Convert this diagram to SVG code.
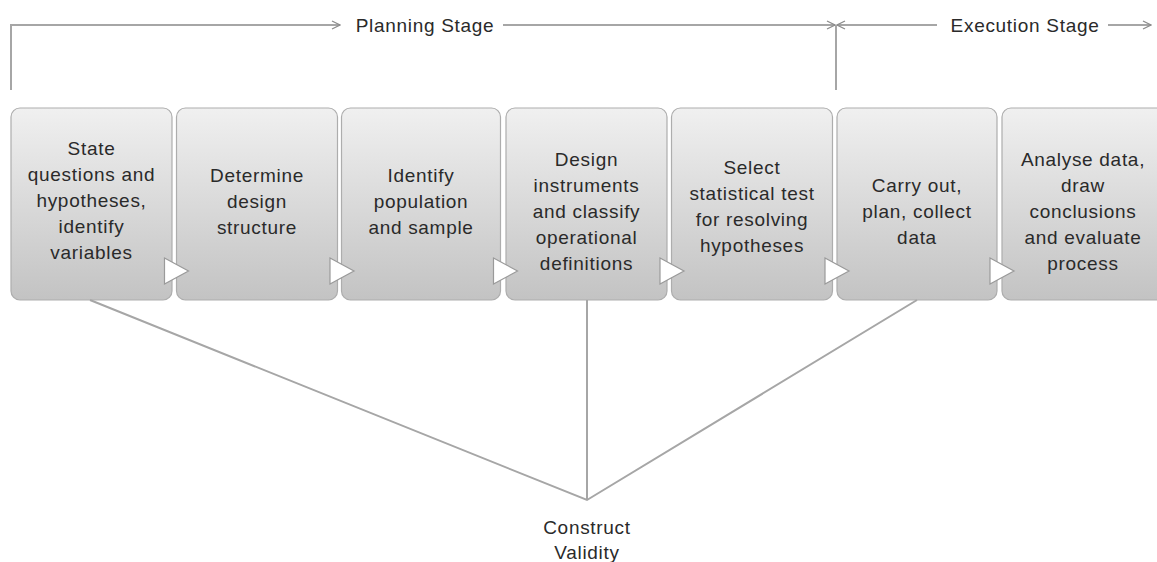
<svg xmlns="http://www.w3.org/2000/svg" width="1157" height="562" viewBox="0 0 1157 562">
<defs>
<linearGradient id="g" x1="0" y1="0" x2="0" y2="1">
<stop offset="0" stop-color="#f0f0f0"/>
<stop offset="1" stop-color="#c3c3c3"/>
</linearGradient>
<marker id="a" viewBox="0 0 10 10" refX="9" refY="5" markerWidth="10" markerHeight="10" markerUnits="userSpaceOnUse" orient="auto">
<path d="M1,1 L9,5 L1,9" fill="none" stroke="#8c8c8c" stroke-width="1.3"/>
</marker>
<style>
.box{fill:url(#g);stroke:#adadad;stroke-width:1.2}
.t{font-family:"Liberation Sans",Arial,sans-serif;font-size:19px;letter-spacing:0.7px;fill:#2a2a2a;text-anchor:middle}
.ln{stroke:#a6a6a6;stroke-width:2;fill:none}
.tri{fill:#ffffff;stroke:#9a9a9a;stroke-width:1.2}
</style>
</defs>
<rect width="1157" height="562" fill="#ffffff"/>

<g id="node1">
<rect class="box" x="11" y="108" width="161" height="192" rx="9"/>
<text class="t" x="91.5" y="154.5">State</text>
<text class="t" x="91.5" y="180.5">questions and</text>
<text class="t" x="91.5" y="206.5">hypotheses,</text>
<text class="t" x="91.5" y="232.5">identify</text>
<text class="t" x="91.5" y="258.5">variables</text>
</g>
<g id="node2">
<rect class="box" x="176.5" y="108" width="161" height="192" rx="9"/>
<text class="t" x="257" y="181.5">Determine</text>
<text class="t" x="257" y="207.5">design</text>
<text class="t" x="257" y="233.5">structure</text>
</g>
<g id="node3">
<rect class="box" x="341.5" y="108" width="159" height="192" rx="9"/>
<text class="t" x="421" y="181.5">Identify</text>
<text class="t" x="421" y="207.5">population</text>
<text class="t" x="421" y="233.5">and sample</text>
</g>
<g id="node4">
<rect class="box" x="506" y="108" width="161" height="192" rx="9"/>
<text class="t" x="586.5" y="165.5">Design</text>
<text class="t" x="586.5" y="191.5">instruments</text>
<text class="t" x="586.5" y="217.5">and classify</text>
<text class="t" x="586.5" y="243.5">operational</text>
<text class="t" x="586.5" y="269.5">definitions</text>
</g>
<g id="node5">
<rect class="box" x="671.5" y="108" width="161" height="192" rx="9"/>
<text class="t" x="752" y="173.5">Select</text>
<text class="t" x="752" y="199.5">statistical test</text>
<text class="t" x="752" y="225.5">for resolving</text>
<text class="t" x="752" y="251.5">hypotheses</text>
</g>
<g id="node6">
<rect class="box" x="837" y="108" width="160" height="192" rx="9"/>
<text class="t" x="917" y="191.5">Carry out,</text>
<text class="t" x="917" y="217.5">plan, collect</text>
<text class="t" x="917" y="243.5">data</text>
</g>
<g id="node7">
<rect class="box" x="1002" y="108" width="165" height="192" rx="9"/>
<text class="t" x="1083" y="165.5">Analyse data,</text>
<text class="t" x="1083" y="191.5">draw</text>
<text class="t" x="1083" y="217.5">conclusions</text>
<text class="t" x="1083" y="243.5">and evaluate</text>
<text class="t" x="1083" y="269.5">process</text>
</g>

<g id="connectors">
<polygon class="tri" points="164.5,258 188.5,271 164.5,284"/>
<polygon class="tri" points="330,258 354,271 330,284"/>
<polygon class="tri" points="493.5,258 517.5,271 493.5,284"/>
<polygon class="tri" points="660,258 684,271 660,284"/>
<polygon class="tri" points="825,258 849,271 825,284"/>
<polygon class="tri" points="990,258 1014,271 990,284"/>

<path class="ln" d="M11,90 L11,25 L340,25" marker-end="url(#a)"/>
<path class="ln" d="M503,25 L835,25" marker-end="url(#a)"/>
<path class="ln" d="M937,25 L837,25" marker-end="url(#a)"/>
<path class="ln" d="M836,25 L836,90"/>
<path class="ln" d="M1108,25 L1151,25" marker-end="url(#a)"/>

<path class="ln" d="M90,300 L587,500 L917,300"/>
<path class="ln" d="M587,300 L587,500"/>
</g>

<g id="labels">
<text class="t" x="425" y="31.5">Planning Stage</text>
<text class="t" x="1025" y="31.5">Execution Stage</text>
<text class="t" x="587" y="533.5">Construct</text>
<text class="t" x="587" y="559">Validity</text>
</g>
</svg>
